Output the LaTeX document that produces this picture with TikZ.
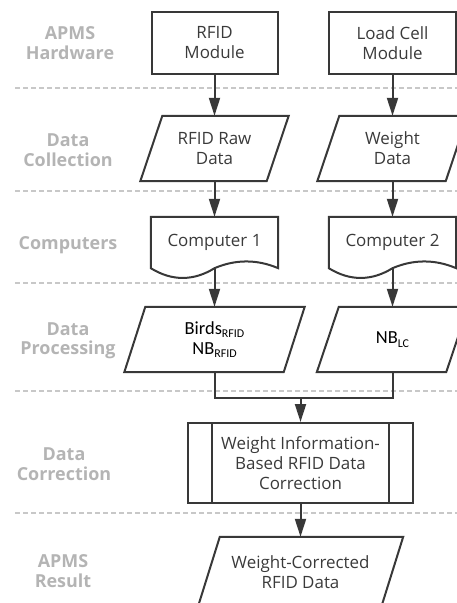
\documentclass[tikz,border=0pt]{standalone}
\usepackage{fontspec}
\setmainfont{Open Sans}
\newfontfamily\calfont{Carlito}
\usetikzlibrary{arrows.meta}
\definecolor{lineC}{HTML}{383838}
\definecolor{textC}{HTML}{3A3A3A}
\definecolor{lblC}{HTML}{B4B4B4}
\definecolor{dashC}{HTML}{C8C8C8}
\newcommand{\subtxt}[1]{\raisebox{-3.5bp}{\fontsize{12}{12}\selectfont #1}}
\tikzset{
  box/.style={draw=lineC, line width=2bp, text=textC, align=center, inner sep=0pt,
    font=\fontsize{17}{20}\selectfont},
  plain/.style={inner sep=0pt, text=textC, align=center, font=\fontsize{17}{20}\selectfont},
  calplain/.style={inner sep=0pt, text=black, align=center, font=\calfont\fontsize{18.5}{20}\selectfont},
  lbl/.style={text=lblC, align=center, font=\fontsize{18}{19.5}\selectfont\bfseries},
  sepline/.style={draw=dashC, line width=1.5bp, dash pattern=on 5bp off 3bp},
  arr/.style={draw=lineC, line width=2bp, -{Triangle[length=18bp,width=11bp]}},
  conn/.style={draw=lineC, line width=2bp, line join=miter},
  outline/.style={draw=lineC, line width=2bp, line join=miter},
}
\newcommand{\para}[2]{%
  \draw[outline] ([xshift=#2bp]#1.north west) -- ([xshift=#2bp]#1.north east)
    -- ([xshift=-#2bp]#1.south east) -- ([xshift=-#2bp]#1.south west) -- cycle;}
\newcommand{\docshape}[1]{%
  \draw[outline] (#1.south west)
    .. controls ([shift={(21,13)}]#1.south west) and ([shift={(-21,13)}]#1.south) .. (#1.south)
    .. controls ([shift={(21,-9)}]#1.south) and ([shift={(-21,-9)}]#1.south east) .. (#1.south east)
    -- (#1.north east) -- (#1.north west) -- cycle;}
\begin{document}
\begin{tikzpicture}[x=1bp, y=-1bp]
\useasboundingbox (0,0) rectangle (457,603);
\clip (0,0) rectangle (457,603);

% separators
\draw[sepline] (15,88) -- (457,88);
\draw[sepline] (15,191) -- (457,191);
\draw[sepline] (15,283) -- (457,283);
\draw[sepline] (15,391) -- (457,391);
\draw[sepline] (15,513) -- (457,513);

% lane labels
\node[lbl] (lab1) at (70,43) {APMS\\Hardware};
\node[lbl] (lab2) at (68,150) {Data\\Collection};
\node[lbl] (lab3) at (68,245) {Computers};
\node[lbl] (lab4) at (68,341) {Data\\Processing};
\node[lbl] (lab5) at (64,464) {Data\\Correction};
\node[lbl] (lab6) at (63,571) {APMS\\Result};

% hardware
\node[box, minimum width=126bp, minimum height=62bp] (rfid) at (214.5,43) {RFID\\Module};
\node[box, minimum width=127bp, minimum height=62bp] (lc) at (392.5,43) {Load Cell\\Module};

% data collection
\node[plain, minimum width=126bp, minimum height=65bp] (raw) at (214.5,148.5) {RFID Raw\\Data};
\para{raw}{11}
\node[plain, minimum width=128bp, minimum height=65bp] (wt) at (392.5,148.5) {Weight\\Data};
\para{wt}{11}

% computers
\node[plain, minimum width=127bp, minimum height=51bp] (comp1) at (214.5,242.5) {Computer 1};
\docshape{comp1}
\node[plain, minimum width=127bp, minimum height=51bp] (comp2) at (392.5,242.5) {Computer 2};
\docshape{comp2}

% processing
\node[calplain, minimum width=159bp, minimum height=65bp] (birds) at (214.5,339.5)
  {Birds\subtxt{RFID}\\NB\subtxt{RFID}};
\para{birds}{10.5}
\node[calplain, minimum width=129bp, minimum height=65bp] (nblc) at (392.5,339.5) {NB\subtxt{LC}};
\para{nblc}{11}

% correction
\node[box, minimum width=225bp, minimum height=80bp] (corr) at (300.5,463)
  {Weight Information-\\Based RFID Data\\Correction};
\draw[outline] ([xshift=25bp]corr.north west) -- ([xshift=25bp]corr.south west);
\draw[outline] ([xshift=-25bp]corr.north east) -- ([xshift=-25bp]corr.south east);

% result
\node[plain, minimum width=183bp, minimum height=70bp] (res) at (300.5,572)
  {Weight-Corrected\\RFID Data};
\para{res}{11}

% connectors
\draw[arr] (rfid) -- (raw);
\draw[arr] (lc) -- (wt);
\draw[arr] (raw) -- (comp1);
\draw[arr] (wt) -- (comp2);
\draw[arr] (comp1.south) -- (birds);
\draw[arr] (comp2.south) -- (nblc);
\coordinate (merge) at (300.5,398);
\draw[conn] (birds.south) |- (merge) -| (nblc.south);
\draw[arr] (merge) -- (corr);
\draw[arr] (corr) -- (res);
\end{tikzpicture}
\end{document}
